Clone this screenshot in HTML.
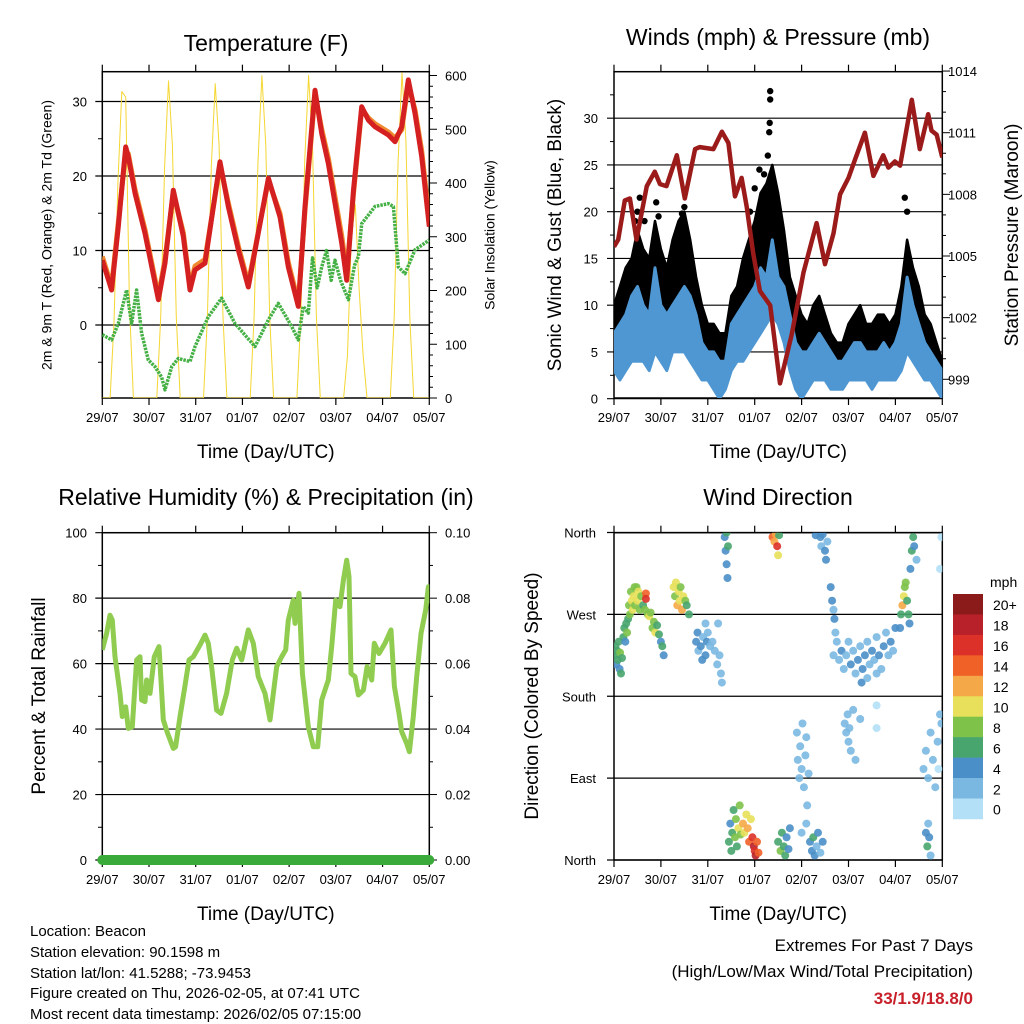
<!DOCTYPE html>
<html><head><meta charset="utf-8"><style>
html,body{margin:0;padding:0;background:#fff}
svg{display:block;font-family:"Liberation Sans",sans-serif}
</style></head><body>
<svg id="root" width="1024" height="1024" viewBox="0 0 1024 1024" xmlns="http://www.w3.org/2000/svg">
<rect width="1024" height="1024" fill="#fff"/>
<defs>
<clipPath id="c1"><rect x="102.3" y="71.7" width="327" height="326.3"/></clipPath>
<clipPath id="c2"><rect x="614" y="71.7" width="328.3" height="326.3"/></clipPath>
<clipPath id="c3"><rect x="102.3" y="532.7" width="327" height="327.3"/></clipPath>
<clipPath id="c4"><rect x="614" y="532.7" width="328.3" height="327.3"/></clipPath>
</defs>
<g id="layer"></g>
<g font-size="15" fill="#000">
<text x="30" y="936">Location: Beacon</text>
<text x="30" y="957">Station elevation: 90.1598 m</text>
<text x="30" y="978">Station lat/lon: 41.5288; -73.9453</text>
<text x="30" y="998">Figure created on Thu, 2026-02-05, at 07:41 UTC</text>
<text x="30" y="1019">Most recent data timestamp: 2026/02/05 07:15:00</text>
</g>
<g font-size="17" text-anchor="end">
<text x="973" y="951">Extremes For Past 7 Days</text>
<text x="973" y="977">(High/Low/Max Wind/Total Precipitation)</text>
<text x="973" y="1004" fill="#c8202a" font-weight="bold">33/1.9/18.8/0</text>
</g>
</svg>
<script>
// ---------- data ----------
const dayLabels = ["29/07","30/07","31/07","01/07","02/07","03/07","04/07","05/07"];
const tempTicks = [0,10,20,30];
const solarTicks = [0,100,200,300,400,500,600];
const windTicks = [0,5,10,15,20,25,30];
const presTicks = [999,1002,1005,1008,1011,1014];
const rhTicks = [0,20,40,60,80,100];
const rainTicks = ["0.00","0.02","0.04","0.06","0.08","0.10"];
const dirNames = ["North","East","South","West","North"];
const speedBins = ["0","2","4","6","8","10","12","14","16","18","20+"];
const speedColors = ["#b3e0f7","#7ab8e2","#4a8fc8","#48a56e","#7ec24a","#e8e05a","#f5a847","#f06128","#dc3128","#b8202a","#8b1a1a"];

const tempDays = [0,.2,.343,.5,.557,.7,.914,1.2,1.342,1.52,1.734,1.877,1.984,2.198,2.52,2.698,2.912,3.126,3.555,3.804,3.983,4.197,4.34,4.554,4.697,4.839,5.125,5.232,5.375,5.553,5.696,5.839,6.124,6.267,6.41,6.552,6.695,6.838,7];
const tempRed = [8.7,4.7,13.2,23.9,22.6,17.7,12.3,3.4,8.3,18.1,11.9,4.7,7.4,8.3,21.9,15.9,10.1,5.1,19.7,14.5,7.8,2.5,15.9,31.5,25.7,21.7,11,6.0,18,29.3,27.5,26.6,25.5,24.6,26.6,32.9,28.4,22.6,13.2];
const tempOrange = [9.2,5.2,13.8,23.4,23.0,18.2,12.8,3.9,8.8,17.8,12.4,5.2,7.9,8.8,21.5,16.4,10.6,5.6,19.4,15.0,8.4,3.0,15.4,31.0,26.3,22.4,12.0,7.0,17.5,29.0,27.8,27.0,25.9,25.1,26.2,32.4,28.9,23.4,14.0];
const tdDays = [0,.2,.343,.521,.628,.735,.842,.985,1.128,1.27,1.342,1.485,1.627,1.877,1.984,2.27,2.555,2.841,3.269,3.555,3.769,4.054,4.197,4.3,4.411,4.5,4.6,4.697,4.8,4.9,4.982,5.1,5.268,5.4,5.482,5.553,5.839,6.124,6.231,6.338,6.481,6.695,7];
const tdVals = [-1.3,-2,0.2,4.7,0.2,4.7,-1.1,-4.7,-5.6,-7,-8.7,-5.6,-4.5,-4.9,-2.9,1.1,3.6,0.2,-2.9,0.7,2.9,-0.2,-2,2.5,1.6,9,5,7.8,10,6,8.7,6,3.4,8,9.2,13.6,15.9,16.3,15.9,7.8,6.9,10.1,11.4];
const solarVals = [
0,0,0,140,400,570,560,170,0,0,0,0,
0,0,0,150,430,590,470,150,0,0,0,0,
0,0,0,150,430,585,470,150,0,0,0,0,
0,0,0,150,440,600,470,150,0,0,0,0,
0,0,0,150,440,600,470,150,0,0,0,0,
0,0,0,80,300,360,200,80,0,0,0,0,
0,0,0,150,440,605,480,150,0,0,0,0,0];

const windDays = [];
for (let i=0;i<=56;i++) windDays.push(i/8);
const windLo = [3,2,3,4,4,4,3,5,4,3,5,5,5,4,3,2,2,1,0,1,3,4,4,5,6,7,8,9,8,6,3,1,0,1,2,2,2,1,1,1,2,2,2,2,1,2,2,2,2,3,5,4,3,2,2,1,0];
const windHi = [7,8,9,11,12,10,9,14,10,9,10,11,12,11,9,6,5,5,4,4,8,9,10,11,12,14,13,17,13,12,9,6,5,5,6,7,6,5,4,4,5,6,6,5,5,5,6,5,6,8,13,10,8,6,5,4,3];
const gustLo = [6,6,8,9,10,9,8,9,8,7,9,10,10,9,8,4,3,3,2,2,5,7,8,8,10,12,13,15,13,9,6,4,2,3,4,4,4,3,2,2,3,4,4,3,3,3,4,3,4,5,9,7,5,4,3,2,1];
const gustHi = [10,12,14,15,18,16,15,19,16,14,17,19,20,17,13,10,8,8,7,7,11,12,15,17,19,22,23,25,22,18,13,11,9,8,10,11,9,7,6,6,8,9,10,8,8,9,9,8,9,12,17,14,12,9,8,6,4];
const gustPeakDays = [3.33,3.33,3.32,3.31,3.28,3.2,3.0,0.5,0.55,0.65,0.95,1.45,6.2,6.25,2.9,3.45,0.45,0.9,1.5,3.1];
const gustPeakVals = [32.9,32,29.5,28.5,26,24,22.5,20,21.5,19,19.5,19.8,21.5,20,20,22,19,21,20.5,24.5];
const presDays = [0,.09,.23,.34,.48,.70,.87,.98,1.12,1.34,1.51,1.73,1.83,2.12,2.3,2.44,2.58,2.72,2.83,2.97,3.11,3.33,3.54,3.79,4.04,4.32,4.5,4.68,4.82,5.0,5.14,5.35,5.53,5.74,5.85,5.99,6.1,6.35,6.52,6.7,6.77,6.88,7];
const presVals = [1005.45,1005.8,1007.7,1007.8,1005.8,1008.4,1009.1,1008.5,1008.4,1009.9,1007.8,1010.2,1010.3,1010.2,1011.05,1010.5,1007.9,1008.8,1007.4,1005.1,1003.3,1002.6,998.8,1001.2,1004.2,1006.6,1004.6,1006.1,1008,1008.8,1009.7,1011.0,1008.9,1009.9,1009.3,1009.6,1009.4,1012.6,1010.2,1011.9,1011.1,1010.9,1009.8];

const rhDays = [0,.093,.164,.214,.271,.378,.428,.5,.557,.642,.735,.807,.842,.914,.949,1.021,1.113,1.213,1.306,1.399,1.52,1.57,1.663,1.756,1.856,1.949,2.091,2.198,2.27,2.341,2.448,2.541,2.662,2.784,2.877,2.984,3.126,3.233,3.34,3.483,3.59,3.733,3.84,3.926,3.983,4.09,4.126,4.211,4.283,4.411,4.518,4.611,4.697,4.839,4.911,4.996,5.089,5.161,5.232,5.282,5.325,5.41,5.482,5.589,5.668,5.767,5.824,5.924,6.053,6.181,6.253,6.353,6.41,6.517,6.574,6.659,6.731,6.824,6.924,6.981,7];
const rhVals = [64.2,69.2,74.8,73.3,62.1,50.9,43.8,46.8,40.2,40.7,61.1,62.1,48.9,48.4,55,50.9,62.1,65.2,42.8,38.7,34.1,34.6,43.8,51.9,61.1,62.1,65.7,68.7,66.2,59.1,45.8,44.8,50.9,61.1,64.7,61.1,70.3,66.2,56,50.9,42.8,59.1,62.1,64.2,73.3,79.4,72.3,81.5,57,40.7,34.6,34.6,48.9,55,65.2,79.4,77.4,85.5,91.6,86.6,57,56,50.4,51.9,59.1,55,66.2,63.1,66.2,70.3,53,44.8,39.2,35.6,33.1,43.8,56,69.2,76.4,83.5,78.4];
const rainDays = [0,7];
const rainVals = [0,0];

const dirObs = [
[0.02,225,6],[0.03,235,7],[0.05,215,5],[0.07,230,6],[0.08,220,7],[0.1,240,6],[0.12,210,5],[0.13,228,8],[0.15,205,6],[0.17,222,7],[0.2,245,6],[0.22,255,7],[0.24,240,5],[0.26,260,7],[0.28,250,8],[0.3,265,7],[0.32,280,9],[0.34,270,8],[0.36,295,8],[0.38,285,10],[0.4,275,10],[0.42,290,11],[0.44,300,9],
[0.45,280,8],[0.48,300,9],[0.5,285,10],[0.52,295,11],[0.55,275,9],[0.58,290,8],[0.62,280,7],[0.66,275,9],[0.68,293,15],[0.68,287,16],[0.72,270,8],[0.75,268,10],[0.78,272,9],[0.82,255,8],[0.85,262,9],[0.88,250,10],[0.92,258,7],[0.96,248,6],[1.0,240,5],[1.03,235,6],[1.06,225,4],
[1.27,300,10],[1.3,290,9],[1.32,305,11],[1.35,280,12],[1.38,295,10],[1.4,285,11],[1.42,300,9],[1.45,275,12],[1.48,290,10],[1.52,285,8],[1.55,280,7],[1.6,270,6],
[1.75,240,4],[1.78,250,4],[1.8,230,3],[1.85,235,4],[1.88,220,4],[1.9,245,3],[1.95,225,4],[1.98,240,4],[2.0,250,2],[2.05,235,2],[2.1,240,2],[2.15,230,2],[2.2,215,2],[2.25,225,3],[2.28,205,2],[2.3,195,2],[1.95,260,2],[2.22,260,2],
[2.36,355,4],[2.38,340,5],[2.4,325,4],[2.42,310,4],[2.4,360,6],[2.43,345,6],
[2.45,20,6],[2.48,40,5],[2.5,10,6],[2.52,30,7],[2.55,55,7],[2.58,25,9],[2.6,45,8],[2.62,15,6],[2.65,35,10],[2.68,60,8],[2.7,28,9],
[2.75,40,12],[2.78,30,11],[2.82,50,10],[2.85,35,13],[2.88,20,14],[2.92,45,10],[2.95,25,16],[2.98,15,18],[3.0,10,17],[3.02,5,18],[3.05,20,15],[3.08,8,14],
[3.38,355,14],[3.42,350,13],[3.45,358,12],[3.48,345,16],[3.5,335,11],[3.52,357,7],
[3.5,20,7],[3.55,10,8],[3.58,30,6],[3.62,15,6],[3.65,5,7],[3.68,25,5],[3.72,12,4],[3.75,35,4],
[3.9,140,2],[3.92,110,3],[3.95,90,2],[3.97,125,3],[4.0,100,2],[4.02,150,2],[4.05,80,3],[4.08,115,3],[4.1,135,2],[4.12,60,3],[4.15,95,2],[4.1,40,2],[4.0,30,3],
[4.18,20,4],[4.22,10,5],[4.25,25,6],[4.28,5,4],[4.32,15,3],[4.35,30,4],[4.4,8,3],[4.45,20,4],
[4.4,355,4],[4.42,345,3],[4.45,358,4],[4.5,340,4],[4.52,330,4],[4.55,350,3],[4.3,357,5],
[4.62,300,4],[4.65,285,4],[4.68,275,3],[4.7,265,4],[4.72,250,2],[4.68,225,2],
[4.75,240,3],[4.8,220,2],[4.85,230,4],[4.9,210,2],[4.95,225,3],[5.0,240,2],[5.05,215,4],[5.1,230,2],[5.15,205,3],[5.2,220,4],[5.25,235,2],[5.3,210,4],[5.35,225,4],[5.4,240,3],[5.45,215,2],[5.5,230,4],[5.55,220,2],[5.6,245,3],[5.65,225,4],[5.7,210,2],[5.75,235,4],[5.8,250,3],[5.85,225,2],[5.9,240,4],[5.95,230,2],[6.0,255,4],[5.28,195,4],[5.4,200,2],[5.6,205,3],
[4.92,150,2],[4.95,140,3],[4.98,160,2],[5.0,130,2],[5.02,145,3],[5.05,120,2],[5.1,165,3],[5.15,110,2],[5.25,155,2],[5.6,170,1],[5.6,145,1],
[6.1,255,5],[6.12,270,6],[6.15,280,12],[6.18,290,10],[6.2,300,9],[6.22,305,8],[6.25,285,7],[6.28,270,6],[6.3,260,5],[6.32,320,4],[6.35,340,6],[6.38,355,7],[6.4,345,4],[6.45,330,2],
[6.6,100,2],[6.65,120,2],[6.7,90,3],[6.75,140,2],[6.8,110,2],[6.85,80,3],[6.9,130,2],[6.95,160,2],[6.98,150,2],[6.92,100,1],[6.65,30,4],[6.68,15,6],[6.72,25,4],[6.75,5,3],[6.7,40,3],[6.95,320,1],[6.98,355,1]
];

// ---------- scales ----------
const X1 = d => 102.3 + d*46.71;
const X2 = d => 614 + d*46.9;
const yTemp = v => 325 - v*7.45;
const ySolar = v => 398 - v*0.5375;
const yWind = v => 398.7 - v*9.35;
const yPres = v => 132.7 - (v-1011)*20.55;
const yRH = v => 860 - v*3.273;
const yRain = v => 860 - v*3273;
const yDir = v => 860 - v*0.9097;

const NS = "http://www.w3.org/2000/svg";
const layer = document.getElementById('layer');
function mk(tag, attrs, parent){
  const e = document.createElementNS(NS, tag);
  for (const k in attrs) e.setAttribute(k, attrs[k]);
  (parent||layer).appendChild(e);
  return e;
}
function txt(s, attrs, parent){ const e = mk('text', attrs, parent); e.textContent = s; return e; }
function pts(xs, ys, fx, fy){ return xs.map((x,i)=>fx(x).toFixed(1)+','+fy(ys[i]).toFixed(1)).join(' '); }

function frame(x0,y0,x1,y1,name,X){
  const g = mk('g',{});
  
  
  mk('rect',{x:x0,y:y0,width:x1-x0,height:y1-y0,fill:'none',stroke:'#000','stroke-width':1.5},g);
  for (let i=0;i<dayLabels.length;i++){
    const x = X(i);
    mk('line',{x1:x,x2:x,y1:y1,y2:y1+7,stroke:'#000','stroke-width':1.2},g);
    mk('line',{x1:x,x2:x,y1:y0,y2:y0-7,stroke:'#000','stroke-width':1.2},g);
    const t = txt(dayLabels[i],{x:x,y:y1+24,'font-size':13,'text-anchor':'middle'},g);
    
    
  }
  const xt = txt('Time (Day/UTC)',{x:(x0+x1)/2,y:y1+60,'font-size':19,'text-anchor':'middle'});
  
  
  return g;
}
function hgrid(y, x0, x1, g){ mk('line',{x1:x0-7,x2:x1,y1:y,y2:y,stroke:'#000','stroke-width':1.2},g); }
function title(s,x,y,name){ const t = txt(s,{x:x,y:y,'font-size':23,'text-anchor':'middle'});   }
function vlabel(s,x,y,fs,name){ const t = txt(s,{x:x,y:y,'font-size':fs,'text-anchor':'middle',transform:`rotate(-90 ${x} ${y})`,'dominant-baseline':'middle'});   }

// ===== Panel 1: Temperature =====
{
  const g = frame(102.3,71.7,429.3,398,'temperature',X1);
  for (const v of tempTicks){ hgrid(yTemp(v),102.3,429.3,g); txt(String(v),{x:87,y:yTemp(v)+5,'font-size':13,'text-anchor':'end'},g); }
  for (let v=-5; v<=34; v+=10) mk('line',{x1:98,x2:102.3,y1:yTemp(v),y2:yTemp(v),stroke:'#000'},g);
  for (let v=0; v<=600; v+=20){ const y=ySolar(v); mk('line',{x1:429.3,x2:v%100===0?437:433,y1:y,y2:y,stroke:'#000'},g); }
  for (const v of solarTicks) txt(String(v),{x:445,y:ySolar(v)+5,'font-size':13},g);
  const cg = mk('g',{'clip-path':'url(#c1)'});
  const solar = mk('polyline',{points:pts(solarVals.map((_,i)=>i/12),solarVals,X1,ySolar),fill:'none',stroke:'#f5d632','stroke-width':1,'stroke-linejoin':'round'},cg);
  
  
  const td = mk('polyline',{points:pts(tdDays,tdVals,X1,yTemp),fill:'none',stroke:'#45b045','stroke-width':3.5,'stroke-linejoin':'round','stroke-dasharray':'2.5 1'},cg);
  
  
  const or = mk('polyline',{points:pts(tempDays,tempOrange,X1,yTemp),fill:'none',stroke:'#f08a30','stroke-width':5,'stroke-linejoin':'round'},cg);
  
  
  const rd = mk('polyline',{points:pts(tempDays,tempRed,X1,yTemp),fill:'none',stroke:'#d42020','stroke-width':5,'stroke-linejoin':'round'},cg);
  
  
  title('Temperature (F)',266,51,'temperature-title');
  vlabel('2m & 9m T (Red, Orange) & 2m Td (Green)',48,235,14,'temperature-y-axis-title');
  vlabel('Solar Insolation (Yellow)',491,235,14,'solar-y-axis-title');
}

// ===== Panel 2: Winds & Pressure =====
{
  const g = frame(614,71.7,942.3,398,'winds',X2);
  for (const v of windTicks){ hgrid(yWind(v),614,942.3,g); txt(String(v),{x:598,y:yWind(v)+5,'font-size':13,'text-anchor':'end'},g); }
  for (let v=2.5; v<=35; v+=5) mk('line',{x1:610,x2:614,y1:yWind(v),y2:yWind(v),stroke:'#000'},g);
  for (let v=999; v<=1014; v++){ const y=yPres(v); mk('line',{x1:942.3,x2:(v-999)%3===0?950:946,y1:y,y2:y,stroke:'#000'},g); }
  for (const v of presTicks) txt(String(v),{x:948,y:yPres(v)+5,'font-size':13},g);
  const cg = mk('g',{'clip-path':'url(#c2)'});
  const gpoly = windDays.map((d,i)=>X2(d).toFixed(1)+','+yWind(gustHi[i]).toFixed(1)).concat(windDays.map((d,i)=>X2(d).toFixed(1)+','+yWind(gustLo[i]).toFixed(1)).reverse()).join(' ');
  const ga = mk('polygon',{points:gpoly,fill:'#000',stroke:'#000','stroke-width':2.5,'stroke-linejoin':'round'},cg);
  
  
  gustPeakDays.forEach((d,i)=>{
    const c = mk('circle',{cx:X2(d),cy:yWind(gustPeakVals[i]),r:3.2,fill:'#000'},cg);
    
    
  });
  const wpoly = windDays.map((d,i)=>X2(d).toFixed(1)+','+yWind(windHi[i]).toFixed(1)).concat(windDays.map((d,i)=>X2(d).toFixed(1)+','+yWind(windLo[i]).toFixed(1)).reverse()).join(' ');
  const wa = mk('polygon',{points:wpoly,fill:'#4f97d2',stroke:'#4f97d2','stroke-width':3,'stroke-linejoin':'round'},cg);
  
  
  const pl = mk('polyline',{points:pts(presDays,presVals,X2,yPres),fill:'none',stroke:'#9b1b1b','stroke-width':4.5,'stroke-linejoin':'round'},cg);
  
  
  title('Winds (mph) & Pressure (mb)',778,45,'winds-title');
  vlabel('Sonic Wind & Gust (Blue, Black)',556,235,19,'wind-y-axis-title');
  vlabel('Station Pressure (Maroon)',1013,235,19,'pressure-y-axis-title');
}

// ===== Panel 3: RH & Precip =====
{
  const g = frame(102.3,532.7,429.3,860,'humidity',X1);
  rhTicks.forEach((v,i)=>{ hgrid(yRH(v),102.3,429.3,g); txt(String(v),{x:87,y:yRH(v)+5,'font-size':13,'text-anchor':'end'},g); txt(rainTicks[i],{x:445,y:yRH(v)+5,'font-size':13},g); });
  for (let v=10; v<100; v+=20) mk('line',{x1:98,x2:102.3,y1:yRH(v),y2:yRH(v),stroke:'#000'},g);
  for (let v=0; v<=100; v+=10){ const y=yRH(v); mk('line',{x1:429.3,x2:v%20===0?437:433,y1:y,y2:y,stroke:'#000'},g); }
  const cg = mk('g',{'clip-path':'url(#c3)'});
  const rh = mk('polyline',{points:pts(rhDays,rhVals,X1,yRH),fill:'none',stroke:'#8fcc50','stroke-width':5,'stroke-linejoin':'round'},cg);
  
  
  const rn = mk('polyline',{points:pts(rainDays,rainVals,X1,yRain),fill:'none',stroke:'#3aaa3a','stroke-width':10,'stroke-linecap':'round'});
  
  
  title('Relative Humidity (%) & Precipitation (in)',266,505,'humidity-title');
  vlabel('Percent & Total Rainfall',40,696,19,'humidity-y-axis-title');
}

// ===== Panel 4: Wind direction =====
{
  const g = frame(614,532.7,942.3,860,'wind-direction',X2);
  dirNames.forEach((n,i)=>{ const v=i*90; hgrid(yDir(v),614,942.3,g); txt(n,{x:596,y:yDir(v)+5,'font-size':13,'text-anchor':'end'},g); });
  const cg = mk('g',{'clip-path':'url(#c4)'});
  dirObs.forEach(o=>{
    const ci = Math.min(10, Math.floor(o[2]/2));
    const c = mk('circle',{cx:X2(o[0]).toFixed(1),cy:yDir(o[1]).toFixed(1),r:4,fill:speedColors[ci],'fill-opacity':0.9},cg);
    
    
  });
  const lg = mk('g',{});
  
  
  const top = 594, bh = 20.45;
  for (let i=0;i<11;i++){
    const idx = 10-i;
    const r = mk('rect',{x:953,y:top+i*bh,width:30,height:bh+0.3,fill:speedColors[idx]},lg);
    
    
    txt(speedBins[idx],{x:993,y:top+i*bh+bh/2+6,'font-size':14},lg);
  }
  txt('mph',{x:990,y:587,'font-size':14},lg);
  title('Wind Direction',778,505,'wind-direction-title');
  vlabel('Direction (Colored By Speed)',533,696,19,'direction-y-axis-title');
}
</script>
</body></html>
